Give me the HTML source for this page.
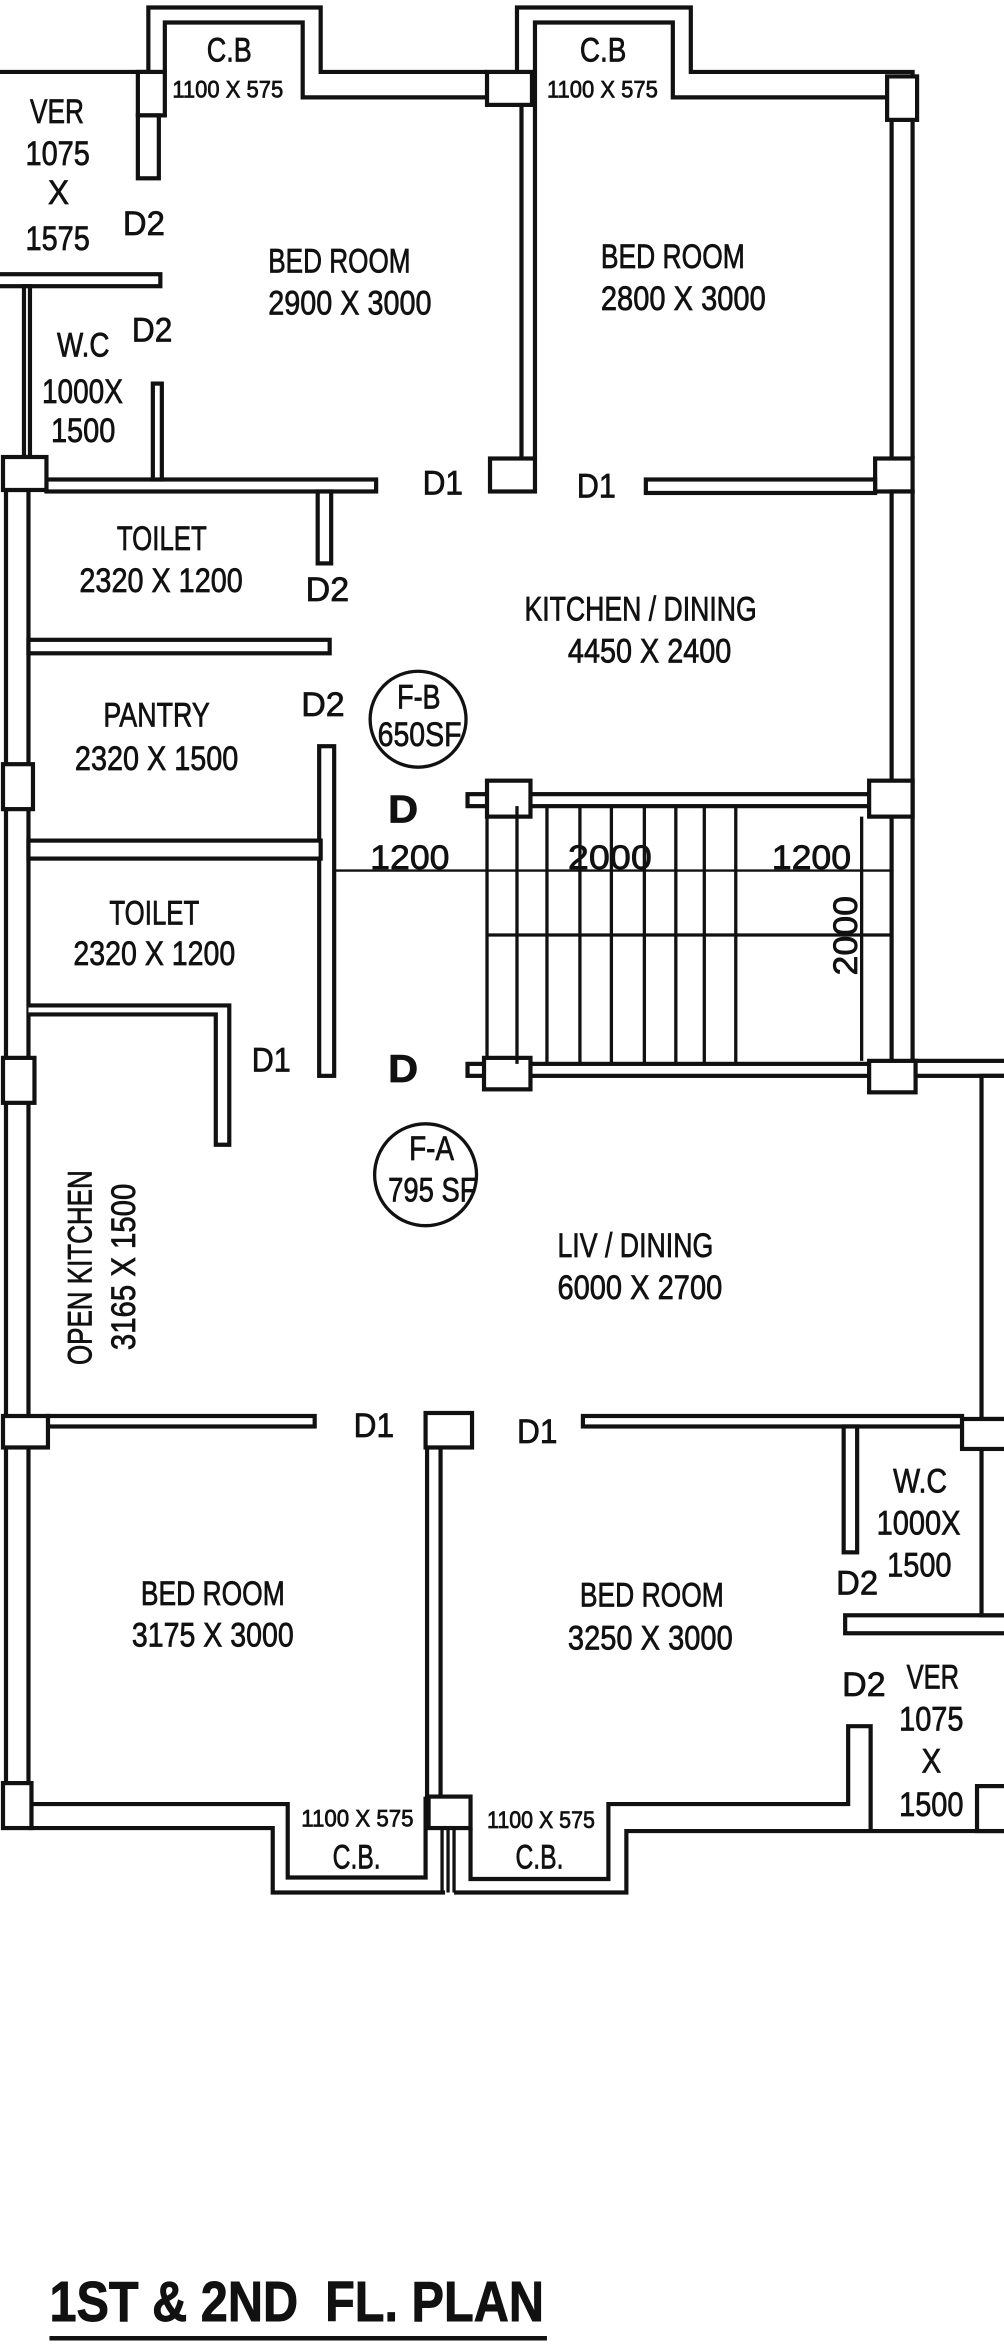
<!DOCTYPE html>
<html><head><meta charset="utf-8"><style>
html,body{margin:0;padding:0;background:#fff;}
svg{display:block;}
text{font-family:"Liberation Sans Narrow","Liberation Sans",sans-serif;fill:#111;stroke:#111;stroke-width:0.5;}
.s{font-size:16px;}
.m{font-size:23px;}
</style></head><body>
<svg width="1004" height="2348" viewBox="0 0 670 1567" preserveAspectRatio="none" xmlns="http://www.w3.org/2000/svg">
<rect x="0" y="0" width="670" height="1567" fill="#fff"/>
<g fill="#fff" stroke="#111" stroke-width="2.8" stroke-linejoin="miter">
<path d="M0,48 H99 V5 H214 V48 H325" fill="none"/>
<path d="M110,48 V15 H202 V65 H325" fill="none"/>
<path d="M345,48 V5 H461 V48 H609 V306" fill="none"/>
<path d="M357,306 V15 H449 V65 H595 V306" fill="none"/>
<line x1="348" y1="70" x2="348" y2="306"/>
<rect x="92" y="48" width="18" height="29"/>
<rect x="92" y="77" width="14" height="42"/>
<rect x="325" y="48" width="30" height="22"/>
<rect x="592" y="51" width="20" height="29"/>
<rect x="327" y="306" width="30" height="22"/>
<rect x="584" y="306" width="25" height="22"/>
<rect x="31" y="320" width="220" height="8"/>
<rect x="431" y="320" width="153" height="9"/>
<rect x="-3" y="183" width="110" height="8"/>
<rect x="16" y="191" width="4" height="114"/>
<rect x="102" y="256" width="6" height="64"/>
<rect x="4" y="327" width="15" height="863"/>
<rect x="2" y="305" width="29" height="22"/>
<rect x="212" y="328" width="9" height="48"/>
<rect x="19" y="427" width="201" height="9"/>
<rect x="2" y="510" width="20" height="30"/>
<rect x="213" y="498" width="10" height="220"/>
<rect x="19" y="561" width="195" height="12"/>
<path d="M19,671 H153 V764 H144 V677 H19" />
<rect x="2" y="706" width="21" height="30"/>
<rect x="312" y="530" width="280" height="8"/>
<rect x="312" y="710" width="280" height="8"/>
<rect x="595" y="328" width="14" height="392"/>
<rect x="325" y="521" width="29" height="24"/>
<rect x="580" y="521" width="29" height="24"/>
<rect x="323" y="706" width="31" height="21"/>
<rect x="580" y="708" width="31" height="21"/>
<rect x="611" y="708" width="62" height="10"/>
<rect x="655" y="718" width="18" height="229"/>
<rect x="32" y="945" width="178" height="7"/>
<rect x="2" y="945" width="30" height="21"/>
<rect x="285" y="966" width="9" height="233"/>
<rect x="284" y="943" width="31" height="23"/>
<rect x="389" y="945" width="253" height="7"/>
<rect x="563" y="952" width="9" height="84"/>
<rect x="564" y="1078" width="109" height="12"/>
<rect x="655" y="966" width="18" height="112"/>
<rect x="642" y="947" width="31" height="20"/>
<path d="M19,1220 H182 V1263 H297" fill="none"/>
<path d="M19,1204 H192 V1253 H284 V1199" fill="none"/>
<path d="M303,1263 H418 V1222 H673" fill="none"/>
<path d="M314,1220 V1254 H406 V1204 H566 V1152 H581 V1222" fill="none"/>
<rect x="2" y="1190" width="19" height="30"/>
<rect x="286" y="1199" width="28" height="21"/>
<rect x="652" y="1192" width="21" height="30"/>
</g>
<g stroke="#111" stroke-width="2.2">
<line x1="295" y1="1220" x2="295" y2="1263"/>
<line x1="299" y1="1220" x2="299" y2="1263"/>
<line x1="303" y1="1220" x2="303" y2="1263"/>
<line x1="345" y1="538" x2="345" y2="710"/>
<line x1="365" y1="538" x2="365" y2="710"/>
<line x1="387" y1="538" x2="387" y2="710"/>
<line x1="408" y1="538" x2="408" y2="710"/>
<line x1="430" y1="538" x2="430" y2="710"/>
<line x1="451" y1="538" x2="451" y2="710"/>
<line x1="470" y1="538" x2="470" y2="710"/>
<line x1="491" y1="538" x2="491" y2="710"/>
<line x1="575" y1="545" x2="575" y2="708"/>
<line x1="325" y1="545" x2="325" y2="706"/>
<line x1="325" y1="624" x2="595" y2="624"/>
</g>
<line x1="224" y1="581" x2="595" y2="581" stroke="#111" stroke-width="1.6"/>
<circle cx="279" cy="480" r="32" fill="none" stroke="#111" stroke-width="2.2"/>
<circle cx="284" cy="784" r="34" fill="none" stroke="#111" stroke-width="2.2"/>

<g class="m">
<text x="138" y="41" textLength="30" lengthAdjust="spacingAndGlyphs">C.B</text>
<text x="387" y="41" textLength="31" lengthAdjust="spacingAndGlyphs">C.B</text>
<text x="20" y="82" textLength="36" lengthAdjust="spacingAndGlyphs">VER</text>
<text x="17" y="110" textLength="43" lengthAdjust="spacingAndGlyphs">1075</text>
<text x="32" y="136" textLength="14" lengthAdjust="spacingAndGlyphs">X</text>
<text x="17" y="167" textLength="43" lengthAdjust="spacingAndGlyphs">1575</text>
<text x="82" y="157" textLength="28" lengthAdjust="spacingAndGlyphs">D2</text>
<text x="179" y="182" textLength="95" lengthAdjust="spacingAndGlyphs">BED ROOM</text>
<text x="179" y="210" textLength="109" lengthAdjust="spacingAndGlyphs">2900 X 3000</text>
<text x="401" y="179" textLength="96" lengthAdjust="spacingAndGlyphs">BED ROOM</text>
<text x="401" y="207" textLength="110" lengthAdjust="spacingAndGlyphs">2800 X 3000</text>
<text x="38" y="238" textLength="35" lengthAdjust="spacingAndGlyphs">W.C</text>
<text x="28" y="269" textLength="54" lengthAdjust="spacingAndGlyphs">1000X</text>
<text x="34" y="295" textLength="43" lengthAdjust="spacingAndGlyphs">1500</text>
<text x="88" y="228" textLength="27" lengthAdjust="spacingAndGlyphs">D2</text>
<text x="282" y="330" textLength="27" lengthAdjust="spacingAndGlyphs">D1</text>
<text x="385" y="332" textLength="26" lengthAdjust="spacingAndGlyphs">D1</text>
<text x="78" y="367" textLength="60" lengthAdjust="spacingAndGlyphs">TOILET</text>
<text x="53" y="395" textLength="109" lengthAdjust="spacingAndGlyphs">2320 X 1200</text>
<text x="204" y="401" textLength="29" lengthAdjust="spacingAndGlyphs">D2</text>
<text x="350" y="414" textLength="155" lengthAdjust="spacingAndGlyphs">KITCHEN / DINING</text>
<text x="379" y="442" textLength="109" lengthAdjust="spacingAndGlyphs">4450 X 2400</text>
<text x="69" y="485" textLength="71" lengthAdjust="spacingAndGlyphs">PANTRY</text>
<text x="50" y="514" textLength="109" lengthAdjust="spacingAndGlyphs">2320 X 1500</text>
<text x="201" y="478" textLength="29" lengthAdjust="spacingAndGlyphs">D2</text>
<text x="265" y="473" textLength="29" lengthAdjust="spacingAndGlyphs">F-B</text>
<text x="252" y="498" textLength="56" lengthAdjust="spacingAndGlyphs">650SF</text>
<text x="259" y="549" textLength="20" lengthAdjust="spacingAndGlyphs" style="font-weight:bold;font-size:26px">D</text>
<text x="247" y="580" textLength="53" lengthAdjust="spacingAndGlyphs">1200</text>
<text x="379" y="580" textLength="56" lengthAdjust="spacingAndGlyphs">2000</text>
<text x="515" y="580" textLength="53" lengthAdjust="spacingAndGlyphs">1200</text>
<text transform="translate(572,651) rotate(-90)" x="0" y="0" textLength="53" lengthAdjust="spacingAndGlyphs">2000</text>
<text x="73" y="617" textLength="60" lengthAdjust="spacingAndGlyphs">TOILET</text>
<text x="49" y="644" textLength="108" lengthAdjust="spacingAndGlyphs">2320 X 1200</text>
<text x="168" y="715" textLength="26" lengthAdjust="spacingAndGlyphs">D1</text>
<text x="259" y="722" textLength="20" lengthAdjust="spacingAndGlyphs" style="font-weight:bold;font-size:26px">D</text>
<text x="273" y="774" textLength="30" lengthAdjust="spacingAndGlyphs">F-A</text>
<text x="259" y="802" textLength="59" lengthAdjust="spacingAndGlyphs">795 SF</text>
<text x="372" y="839" textLength="104" lengthAdjust="spacingAndGlyphs">LIV / DINING</text>
<text x="372" y="867" textLength="110" lengthAdjust="spacingAndGlyphs">6000 X 2700</text>
<text transform="translate(61,911) rotate(-90)" x="0" y="0" textLength="130" lengthAdjust="spacingAndGlyphs">OPEN KITCHEN</text>
<text transform="translate(90,901) rotate(-90)" x="0" y="0" textLength="111" lengthAdjust="spacingAndGlyphs">3165 X 1500</text>
<text x="236" y="959" textLength="27" lengthAdjust="spacingAndGlyphs">D1</text>
<text x="345" y="963" textLength="27" lengthAdjust="spacingAndGlyphs">D1</text>
<text x="94" y="1071" textLength="96" lengthAdjust="spacingAndGlyphs">BED ROOM</text>
<text x="88" y="1099" textLength="108" lengthAdjust="spacingAndGlyphs">3175 X 3000</text>
<text x="387" y="1072" textLength="96" lengthAdjust="spacingAndGlyphs">BED ROOM</text>
<text x="379" y="1101" textLength="110" lengthAdjust="spacingAndGlyphs">3250 X 3000</text>
<text x="596" y="996" textLength="36" lengthAdjust="spacingAndGlyphs">W.C</text>
<text x="585" y="1024" textLength="56" lengthAdjust="spacingAndGlyphs">1000X</text>
<text x="592" y="1052" textLength="43" lengthAdjust="spacingAndGlyphs">1500</text>
<text x="558" y="1064" textLength="28" lengthAdjust="spacingAndGlyphs">D2</text>
<text x="562" y="1132" textLength="29" lengthAdjust="spacingAndGlyphs">D2</text>
<text x="605" y="1127" textLength="35" lengthAdjust="spacingAndGlyphs">VER</text>
<text x="600" y="1155" textLength="43" lengthAdjust="spacingAndGlyphs">1075</text>
<text x="615" y="1183" textLength="13" lengthAdjust="spacingAndGlyphs">X</text>
<text x="600" y="1212" textLength="43" lengthAdjust="spacingAndGlyphs">1500</text>
<text x="222" y="1247" textLength="32" lengthAdjust="spacingAndGlyphs">C.B.</text>
<text x="344" y="1247" textLength="32" lengthAdjust="spacingAndGlyphs">C.B.</text>
</g>
<g class="s">
<text x="115" y="65" textLength="74" lengthAdjust="spacingAndGlyphs">1100 X 575</text>
<text x="365" y="65" textLength="74" lengthAdjust="spacingAndGlyphs">1100 X 575</text>
<text x="201" y="1219" textLength="75" lengthAdjust="spacingAndGlyphs">1100 X 575</text>
<text x="325" y="1220" textLength="72" lengthAdjust="spacingAndGlyphs">1100 X 575</text>
</g>
<text x="33" y="1549" textLength="330" lengthAdjust="spacingAndGlyphs" style="font-family:'Liberation Sans',sans-serif;font-weight:bold;font-size:38px;stroke-width:0.6">1ST &amp; 2ND&#160; FL. PLAN</text>
<rect x="33" y="1559" width="332" height="3" fill="#111"/>
</svg>
</body></html>
